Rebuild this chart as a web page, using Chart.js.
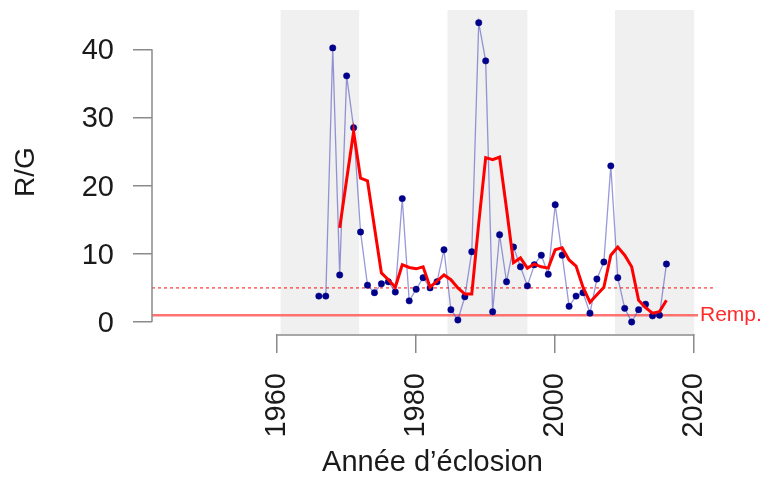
<!DOCTYPE html>
<html>
<head>
<meta charset="utf-8">
<script src="https://cdn.jsdelivr.net/npm/chart.js@4.4.0/dist/chart.umd.min.js"></script>
<style>
  html, body { margin: 0; padding: 0; background: #fff; }
  canvas { display: block; }
</style>
</head>
<body>
<canvas id="rgChart" width="761" height="477"></canvas>
<script>
// Données
const annees = [1966, 1967, 1968, 1969, 1970, 1971, 1972, 1973, 1974, 1975,
    1976, 1977, 1978, 1979, 1980, 1981, 1982, 1983, 1984, 1985,
    1986, 1987, 1988, 1989, 1990, 1991, 1992, 1993, 1994, 1995,
    1996, 1997, 1998, 1999, 2000, 2001, 2002, 2003, 2004, 2005,
    2006, 2007, 2008, 2009, 2010, 2011, 2012, 2013, 2014, 2015, 2016];
const ratioRG = [3.8, 3.8, 40.2, 6.9, 36.1, 28.5, 13.2, 5.4, 4.3, 5.6,
    5.9, 4.4, 18.1, 3.1, 4.8, 6.5, 5.0, 5.9, 10.6, 1.8,
    0.3, 3.7, 10.3, 43.9, 38.3, 1.5, 12.8, 5.9, 11.0, 8.1,
    5.3, 8.4, 9.8, 7.0, 17.2, 9.8, 2.3, 3.8, 4.3, 1.3,
    6.3, 8.8, 22.9, 6.5, 2.0, 0.0, 1.8, 2.6, 0.9, 1.0, 8.5];

// Moyenne mobile (courbe rouge)
const anneesLisse = [1969, 1970, 1971, 1972, 1973, 1974, 1975, 1976, 1977, 1978,
    1979, 1980, 1981, 1982, 1983, 1984, 1985, 1986, 1987, 1988,
    1989, 1990, 1991, 1992, 1993, 1994, 1995, 1996, 1997, 1998,
    1999, 2000, 2001, 2002, 2003, 2004, 2005, 2006, 2007, 2008,
    2009, 2010, 2011, 2012, 2013, 2014, 2015, 2016];
const rgLisse = [13.8, 20.9, 27.9, 21.1, 20.7, 13.9, 7.2, 6.2, 5.1, 8.4,
    8.0, 7.8, 8.1, 5.1, 6.0, 6.9, 6.2, 5.0, 4.1, 4.1,
    14.5, 24.1, 23.8, 24.2, 16.6, 8.7, 9.4, 7.9, 8.5, 8.1,
    7.9, 10.6, 10.9, 9.1, 8.2, 5.1, 2.9, 4.0, 5.1, 9.8,
    11.0, 9.8, 8.1, 3.2, 2.1, 1.3, 1.5, 3.2];

// Périodes ombrées
const periodes = [[1960.5, 1971.8], [1984.5, 1996], [2008.6, 2020]];

const seuilRemp = 1;
const seuilPointille = 5;
const ticksX = [1960, 1980, 2000, 2020];
const ticksY = [0, 10, 20, 30, 40];

Chart.defaults.font.family = '"Liberation Sans", Arial, Helvetica, sans-serif';

const couleurAxe = '#8a8a8a';

// Bandes grises + lignes de référence, sous les données
const fondPlugin = {
    id: 'fond',
    beforeDatasetsDraw(chart) {
        const { ctx, chartArea, scales } = chart;
        const x = scales.x, y = scales.y;
        ctx.save();
        ctx.fillStyle = '#f0f0f0';
        periodes.forEach(([a, b]) => {
            const x1 = x.getPixelForValue(a);
            const x2 = x.getPixelForValue(b);
            ctx.fillRect(x1, chartArea.top, x2 - x1, chartArea.bottom - chartArea.top);
        });

        // ligne pointillée
        const yp = y.getPixelForValue(seuilPointille);
        ctx.strokeStyle = 'rgba(255, 30, 30, 0.9)';
        ctx.lineWidth = 1.2;
        ctx.setLineDash([3, 3]);
        ctx.beginPath();
        ctx.moveTo(chartArea.left, yp);
        ctx.lineTo(chartArea.right, yp);
        ctx.stroke();
        ctx.setLineDash([]);

        // seuil de remplacement
        const yr = y.getPixelForValue(seuilRemp);
        const xTexte = chartArea.right - 13;
        ctx.strokeStyle = 'rgba(255, 90, 90, 0.85)';
        ctx.lineWidth = 2.5;
        ctx.beginPath();
        ctx.moveTo(chartArea.left, yr);
        ctx.lineTo(xTexte - 2, yr);
        ctx.stroke();

        ctx.fillStyle = '#ff2a2a';
        ctx.font = '21px "Liberation Sans", Arial, sans-serif';
        ctx.textAlign = 'left';
        ctx.textBaseline = 'middle';
        ctx.fillText('Remp.', xTexte, yr);
        ctx.restore();
    }
};

// Lignes d'axe à la façon de R (du premier au dernier repère)
const axesPlugin = {
    id: 'axesR',
    afterDraw(chart) {
        const { ctx, chartArea, scales } = chart;
        ctx.save();
        ctx.strokeStyle = couleurAxe;
        ctx.lineWidth = 1.5;
        ctx.beginPath();
        ctx.moveTo(chartArea.left, scales.y.getPixelForValue(ticksY[0]));
        ctx.lineTo(chartArea.left, scales.y.getPixelForValue(ticksY[ticksY.length - 1]));
        ctx.moveTo(scales.x.getPixelForValue(ticksX[0]), chartArea.bottom + 1);
        ctx.lineTo(scales.x.getPixelForValue(ticksX[ticksX.length - 1]), chartArea.bottom + 1);
        ctx.stroke();
        ctx.restore();
    }
};

const ctx = document.getElementById('rgChart').getContext('2d');

new Chart(ctx, {
    type: 'line',
    data: {
        datasets: [
            {
                label: 'R/G',
                data: annees.map((a, i) => ({ x: a, y: ratioRG[i] })),
                borderColor: 'rgba(70, 70, 185, 0.55)',
                borderWidth: 1.3,
                pointRadius: 3.2,
                pointBackgroundColor: '#00008b',
                pointBorderColor: '#00008b',
                pointBorderWidth: 0.5,
                tension: 0,
                order: 2
            },
            {
                label: 'Moyenne',
                data: anneesLisse.map((a, i) => ({ x: a, y: rgLisse[i] })),
                borderColor: '#ff0000',
                borderWidth: 3,
                pointRadius: 0,
                tension: 0,
                order: 1
            }
        ]
    },
    options: {
        responsive: false,
        animation: false,
        events: [],
        layout: {
            padding: { top: 10, right: 48, left: 0, bottom: 0 }
        },
        plugins: {
            legend: { display: false },
            tooltip: { enabled: false }
        },
        scales: {
            x: {
                type: 'linear',
                min: 1942,
                max: 2022.7,
                afterBuildTicks: (s) => { s.ticks = ticksX.map(v => ({ value: v })); },
                afterFit: (s) => {
                    s.height = 143;
                    s.paddingLeft = 0;
                    s.paddingRight = 0;
                },
                border: { display: false },
                grid: {
                    drawOnChartArea: false,
                    drawTicks: true,
                    tickLength: 19,
                    color: couleurAxe,
                    lineWidth: 1.5
                },
                ticks: {
                    minRotation: 90,
                    maxRotation: 90,
                    autoSkip: false,
                    padding: 20,
                    color: '#1a1a1a',
                    font: { size: 29 },
                    callback: (v) => String(v)
                },
                title: {
                    display: true,
                    text: 'Année d’éclosion',
                    color: '#1a1a1a',
                    font: { size: 29, lineHeight: 1 },
                    padding: { top: -3, bottom: 0 }
                }
            },
            y: {
                min: -1.76,
                max: 45.76,
                afterBuildTicks: (s) => { s.ticks = ticksY.map(v => ({ value: v })); },
                afterFit: (s) => {
                    s.width = 152;
                    s.paddingTop = 0;
                    s.paddingBottom = 0;
                },
                border: { display: false },
                grid: {
                    drawOnChartArea: false,
                    drawTicks: true,
                    tickLength: 19,
                    color: couleurAxe,
                    lineWidth: 1.5
                },
                ticks: {
                    padding: 19,
                    labelOffset: 2,
                    color: '#1a1a1a',
                    font: { size: 29 },
                    callback: (v) => String(v)
                },
                title: {
                    display: true,
                    text: 'R/G',
                    color: '#1a1a1a',
                    font: { size: 28, lineHeight: 1 },
                    padding: { top: 12, bottom: 0 }
                }
            }
        }
    },
    plugins: [fondPlugin, axesPlugin]
});
</script>
</body>
</html>
